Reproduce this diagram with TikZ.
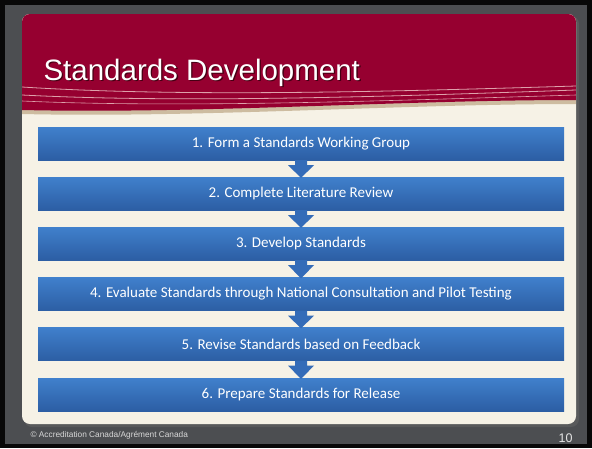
\documentclass[tikz,border=0pt]{standalone}
\usepackage{fontspec}
\setmainfont{Liberation Sans}
\newfontfamily\boxfont{Carlito}
\usetikzlibrary{calc}
\definecolor{frameblack}{RGB}{8,8,8}
\definecolor{slidegrey}{RGB}{76,78,81}
\definecolor{headred}{RGB}{150,0,48}
\definecolor{cream}{RGB}{246,242,230}
\definecolor{tanband}{RGB}{205,188,160}
\definecolor{waveline}{RGB}{222,160,170}
\definecolor{bluetop}{RGB}{64,128,204}
\definecolor{bluebot}{RGB}{44,94,164}
\definecolor{arrowblue}{RGB}{52,108,184}
\definecolor{shadowred}{RGB}{70,0,20}
\tikzset{
  stepbox/.style={rectangle, minimum width=526pt, minimum height=33pt, inner sep=0pt,
    top color=bluetop, bottom color=bluebot, draw=none, text=white,
    font=\boxfont\fontsize{15}{18}\selectfont},
  flowarrow/.style={fill=arrowblue, draw=none},
  wave/.style={draw=waveline, line width=0.8pt},
}
\begin{document}
\begin{tikzpicture}[x=1pt,y=-1pt]
\useasboundingbox (0,0) rectangle (592,448);
\fill[frameblack] (0,0) rectangle (592,448);
\fill[slidegrey] (5,5) rectangle (587,444);
% card shadow
\fill[black!60, opacity=0.5, rounded corners=8pt] (24,16) rectangle (579,427);
% card
\fill[cream, rounded corners=8pt] (22,14) rectangle (576,424);
% red header
\begin{scope}
\clip[rounded corners=8pt] (22,14) rectangle (576,424);
\fill[tanband] (22,14) -- (576,14) -- (576,104) .. controls (400,104) and (200,118) .. (22,114) -- cycle;
\fill[headred] (22,14) -- (576,14) -- (576,100) .. controls (400,100) and (200,114) .. (22,110) -- cycle;
\draw[wave] (22,87) .. controls (180,97) and (380,92) .. (576,86);
\draw[wave] (22,95) .. controls (180,103) and (380,97) .. (576,90);
\draw[wave, line width=0.6pt] (22,101) .. controls (180,108) and (380,101) .. (576,95);
\end{scope}
% title
\node[anchor=base west, text=shadowred, font=\fontsize{29.5}{34}\selectfont] at (41.3,81.3) {Standards Development};
\node[anchor=base west, text=white, font=\fontsize{29.5}{34}\selectfont] (title) at (40,80) {Standards Development};
% boxes
\node[stepbox] (b1) at (301,143.5) {1. Form a Standards Working Group};
\node[stepbox] (b2) at (301,193.5) {2. Complete Literature Review};
\node[stepbox] (b3) at (301,243.5) {3. Develop Standards};
\node[stepbox] (b4) at (301,294) {4. Evaluate Standards through National Consultation and Pilot Testing};
\node[stepbox] (b5) at (301,344) {5. Revise Standards based on Feedback};
\node[stepbox] (b6) at (301,394.5) {6. Prepare Standards for Release};
% arrows
\foreach \a/\b in {b1/b2,b2/b3,b3/b4,b4/b5,b5/b6}{
  \fill[flowarrow] ($(\a.south)+(-6,0)$) -- ($(\a.south)+(6,0)$)
    -- ($(\a.south)+(6,5)$) -- ($(\a.south)+(13,5)$)
    -- ($(\b.north)+(0,1)$)
    -- ($(\a.south)+(-13,5)$) -- ($(\a.south)+(-6,5)$) -- cycle;
}
% footer
\node[anchor=base west, text=white!85!black, font=\fontsize{8.3}{10}\selectfont] (foot) at (27,437) {© Accreditation Canada/Agrément Canada};
\node[anchor=base east, text=white!90!black, font=\fontsize{12.5}{15}\selectfont] (pagenum) at (576,442) {10};
\end{tikzpicture}
\end{document}
